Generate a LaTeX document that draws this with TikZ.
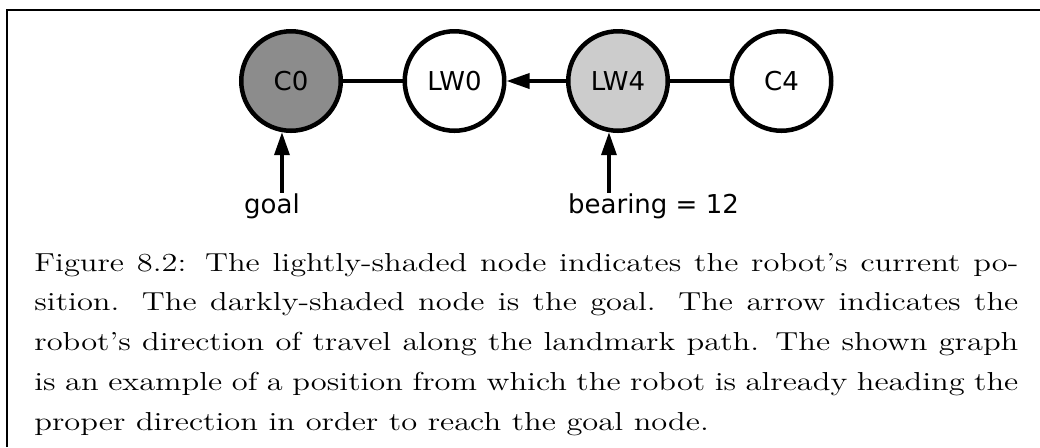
\documentclass[tikz,border=0pt]{standalone}
\usepackage{fontspec}
\newfontfamily\labelfont{DejaVu Sans}
\newfontfamily\capfont[Ligatures=TeX, FakeStretch=1.25]{Latin Modern Roman}
\usetikzlibrary{arrows.meta, positioning}

\begin{document}
\begin{tikzpicture}[x=0.5pt, y=-0.5pt,
                landmark/.style={circle, draw, line width=2.25pt, minimum size=49.75pt,
                                 inner sep=0pt, font=\labelfont\fontsize{13}{15}\selectfont},
                link/.style={line width=1.75pt},
                pointer/.style={line width=1.75pt, -{Triangle[length=11.5pt, width=7.5pt]}},
                tag/.style={inner sep=0pt, font=\labelfont\fontsize{13}{15}\selectfont},
                node distance=29.75pt]
                % page size and the frame round the figure
                \useasboundingbox (0,0) rectangle (1040,447);
                \draw[line width=1pt] (7,447) -- (7,10) -- (1040,10);

                % Landmark path - start with the goal node as anchor
                \node[landmark, fill=black!45] (c0) at (291,81) {C0};
                \node[landmark, right=of c0] (lw0) {LW0};
                \node[landmark, fill=black!20, right=of lw0] (lw4) {LW4};
                \node[landmark, right=of lw4] (c4) {C4};

                % Links - travel direction from LW4 towards LW0
                \draw[link] (c0) -- (lw0);
                \draw[pointer] (lw4) -- (lw0);
                \draw[link] (lw4) -- (c4);

                % Markers under the nodes
                \node[tag, anchor=base] (goal) at (272,213) {goal};
                \node[tag, anchor=base] (bearing) at (653.5,213) {bearing = 12};
                \draw[pointer] (c0.260 |- goal.north) -- (c0.260);
                \draw[pointer] (lw4.260 |- bearing.north) -- (lw4.260);

                % Caption
                \node[anchor=base west, inner sep=0pt, text width=492pt, align=justify,
                      font=\capfont\fontsize{13}{19.875}\selectfont] (caption) at (34,271)
                    {\hyphenpenalty=10000 \tolerance=10000
                     Figure 8.2: The lightly-shaded node indicates the robot's current po-\linebreak
                     sition. The darkly-shaded node is the goal. The arrow indicates the\linebreak
                     robot's direction of travel along the landmark path. The shown graph\linebreak
                     is an example of a position from which the robot is already heading the\linebreak
                     proper direction in order to reach the goal node.};
            \end{tikzpicture}
\end{document}
